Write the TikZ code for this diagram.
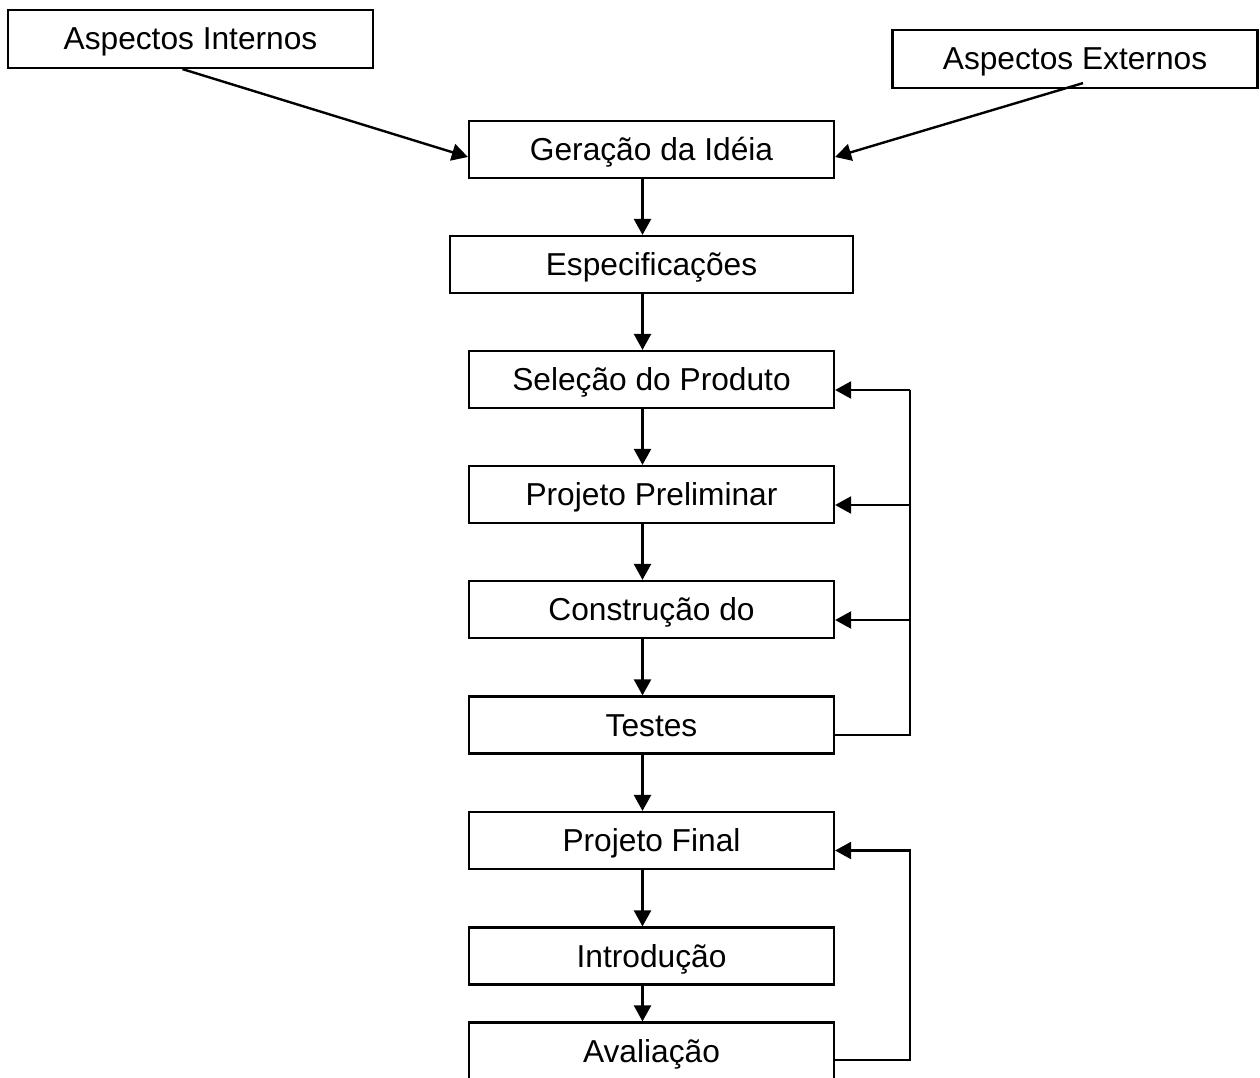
\documentclass[tikz,border=0pt]{standalone}
\usepackage{fontspec}
\setmainfont{Liberation Sans}
\usetikzlibrary{arrows.meta}
\begin{document}
\begin{tikzpicture}[x=1pt,y=-1pt,
  box/.style={draw,line width=2.2pt,inner sep=0pt,minimum width=365pt,minimum height=57pt,
    text height=22.7pt,text depth=0.7pt,
    font=\fontsize{31.7}{38}\selectfont},
  wide/.style={box,minimum width=403pt},
  flow/.style={line width=2.4pt,-{Triangle[length=16pt,width=17pt]}},
  back/.style={line width=2.2pt,-{Triangle[length=16pt,width=17pt]}}]
\useasboundingbox (0,0) rectangle (1260,1078);
\clip (0,0) rectangle (1260,1078);
% source boxes
\node[box,minimum height=58pt] (ai) at (190.5,39) {Aspectos Internos};
\node[box,minimum height=58pt] (ae) at (1075,59) {Aspectos Externos};
% main chain
\node[box]  (gi) at (651.5,149.5) {Geração da Idéia};
\node[wide] (es) at (651.5,264.5) {Especificações};
\node[box]  (sp) at (651.5,379.5) {Seleção do Produto};
\node[box]  (pp) at (651.5,494.5) {Projeto Preliminar};
\node[box]  (cp) at (651.5,609.5) {Construção do};
\node[box]  (ts) at (651.5,725) {Testes};
\node[box]  (pf) at (651.5,840.5) {Projeto Final};
\node[box]  (in) at (651.5,956) {Introdução};
\node[box]  (av) at (651.5,1051) {Avaliação};
% inputs to idea generation
\draw[flow] ([xshift=-8pt]ai.south) -- ([yshift=-7.5pt]gi.west);
\draw[flow] ([xshift=8pt,yshift=6pt]ae.south) -- ([yshift=-7.5pt]gi.east);
% downward flow
\foreach \a/\b in {gi/es,es/sp,sp/pp,pp/cp,cp/ts,ts/pf,pf/in,in/av}
  \draw[flow] ([xshift=-9pt]\a.south) -- ([xshift=-9pt]\b.north);
% feedback from tests
\coordinate (fb1) at (910,735);
\draw[line width=2.2pt] ([yshift=-10pt]ts.east) -- (fb1) -- (910,390);
\draw[back] (910,390) -- ([yshift=-10.5pt]sp.east);
\draw[back] (910,505) -- ([yshift=-10.5pt]pp.east);
\draw[back] (910,620) -- ([yshift=-10.5pt]cp.east);
% feedback from evaluation
\draw[back] ([yshift=-9pt]av.east) -- (910,1060) -- (910,850.5) -- ([yshift=-10pt]pf.east);
\end{tikzpicture}
\end{document}
